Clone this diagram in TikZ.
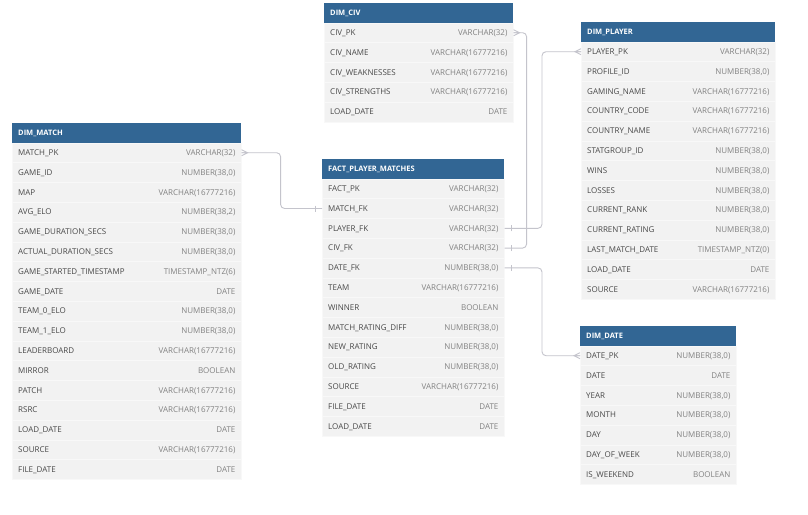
\documentclass[tikz,border=0pt]{standalone}
\usepackage{fontspec}
\setmainfont{Open Sans}
\usetikzlibrary{arrows.meta}
\definecolor{ctete}{RGB}{50,102,148}
\definecolor{cligne}{RGB}{242,242,242}
\definecolor{cnom}{RGB}{72,72,72}
\definecolor{ctype}{RGB}{130,130,130}
\definecolor{clien}{RGB}{196,196,204}

\tikzset{
  tete/.style={fill=ctete, text=white, anchor=north west, minimum height=19.5,
    inner xsep=6, text height=5.5, text depth=0, align=left,
    font=\fontsize{7.5}{9}\selectfont\bfseries},
  ligne/.style={fill=cligne, draw=white!50!cligne, line width=0.6,
    anchor=north west, minimum height=19.8, inner sep=0},
  nom/.style={anchor=west, xshift=6, inner sep=0, text=cnom, text height=5.7,
    text depth=0, font=\fontsize{8}{9}\selectfont},
  typ/.style={anchor=east, xshift=-6, inner sep=0, text=ctype, text height=5.7,
    text depth=0, font=\fontsize{8}{9}\selectfont},
  lien/.style={draw=clien, line width=0.9},
  patte/.pic={\draw[lien] (0,0) -- (6,0) (0,3) -- (6,0) -- (0,-3);},
  barre/.pic={\draw[lien] (7,3) -- (7,-3);}
}

% une table : nom, x, y, largeur, titre, lignes
\newcommand\tablo[6]{%
  \node[tete, text width={#4-12}] (#1) at (#2,#3) {#5};
  \foreach \f/\t [count=\i] in {#6} {
    \node[ligne, minimum width=#4] (#1\i) at ({#2},{#3+19.5+19.8*(\i-1)}) {};
    \node[nom] at (#1\i.west) {\f};
    \node[typ] at (#1\i.east) {\t};
  }%
}

\begin{document}
\begin{tikzpicture}[x=1pt, y=-1pt]
\useasboundingbox[fill=white] (0,0) rectangle (808,514);
% dimensions
\tablo{civ}{324}{3}{189}{DIM\_CIV}{%
  CIV\_PK/VARCHAR(32), CIV\_NAME/VARCHAR(16777216),
  CIV\_WEAKNESSES/VARCHAR(16777216), CIV\_STRENGTHS/VARCHAR(16777216),
  LOAD\_DATE/DATE}
\tablo{player}{581}{22}{194}{DIM\_PLAYER}{%
  PLAYER\_PK/VARCHAR(32), PROFILE\_ID/{NUMBER(38,0)},
  GAMING\_NAME/VARCHAR(16777216), COUNTRY\_CODE/VARCHAR(16777216),
  COUNTRY\_NAME/VARCHAR(16777216), STATGROUP\_ID/{NUMBER(38,0)},
  WINS/{NUMBER(38,0)}, LOSSES/{NUMBER(38,0)}, CURRENT\_RANK/{NUMBER(38,0)},
  CURRENT\_RATING/{NUMBER(38,0)}, LAST\_MATCH\_DATE/TIMESTAMP\_NTZ(0),
  LOAD\_DATE/DATE, SOURCE/VARCHAR(16777216)}
\tablo{match}{12}{123}{229}{DIM\_MATCH}{%
  MATCH\_PK/VARCHAR(32), GAME\_ID/{NUMBER(38,0)}, MAP/VARCHAR(16777216),
  AVG\_ELO/{NUMBER(38,2)}, GAME\_DURATION\_SECS/{NUMBER(38,0)},
  ACTUAL\_DURATION\_SECS/{NUMBER(38,0)},
  GAME\_STARTED\_TIMESTAMP/TIMESTAMP\_NTZ(6), GAME\_DATE/DATE,
  TEAM\_0\_ELO/{NUMBER(38,0)}, TEAM\_1\_ELO/{NUMBER(38,0)},
  LEADERBOARD/VARCHAR(16777216), MIRROR/BOOLEAN, PATCH/VARCHAR(16777216),
  RSRC/VARCHAR(16777216), LOAD\_DATE/DATE, SOURCE/VARCHAR(16777216),
  FILE\_DATE/DATE}
\tablo{date}{580}{326}{156}{DIM\_DATE}{%
  DATE\_PK/{NUMBER(38,0)}, DATE/DATE, YEAR/{NUMBER(38,0)},
  MONTH/{NUMBER(38,0)}, DAY/{NUMBER(38,0)}, DAY\_OF\_WEEK/{NUMBER(38,0)},
  IS\_WEEKEND/BOOLEAN}
% faits
\tablo{fact}{322}{159}{182}{FACT\_PLAYER\_MATCHES}{%
  FACT\_PK/VARCHAR(32), MATCH\_FK/VARCHAR(32), PLAYER\_FK/VARCHAR(32),
  CIV\_FK/VARCHAR(32), DATE\_FK/{NUMBER(38,0)}, TEAM/VARCHAR(16777216),
  WINNER/BOOLEAN, MATCH\_RATING\_DIFF/{NUMBER(38,0)},
  NEW\_RATING/{NUMBER(38,0)}, OLD\_RATING/{NUMBER(38,0)},
  SOURCE/VARCHAR(16777216), FILE\_DATE/DATE, LOAD\_DATE/DATE}
% liens
\draw[lien, rounded corners=4] (match1.east) -- ++(39,0) |- (fact2.west);
\draw[lien, rounded corners=4] (civ1.east) -- ++(13,0) |- (fact4.east);
\draw[lien, rounded corners=4] (player1.west) -- ++(-39,0) |- (fact3.east);
\draw[lien, rounded corners=4] (date1.west) -- ++(-38,0) |- (fact5.east);
% cardinalites
\pic at (match1.east) {patte};
\pic at (civ1.east) {patte};
\pic[rotate=180] at (player1.west) {patte};
\pic[rotate=180] at (date1.west) {patte};
\pic[rotate=180] at (fact2.west) {barre};
\pic at (fact3.east) {barre};
\pic at (fact4.east) {barre};
\pic at (fact5.east) {barre};
\end{tikzpicture}
\end{document}
